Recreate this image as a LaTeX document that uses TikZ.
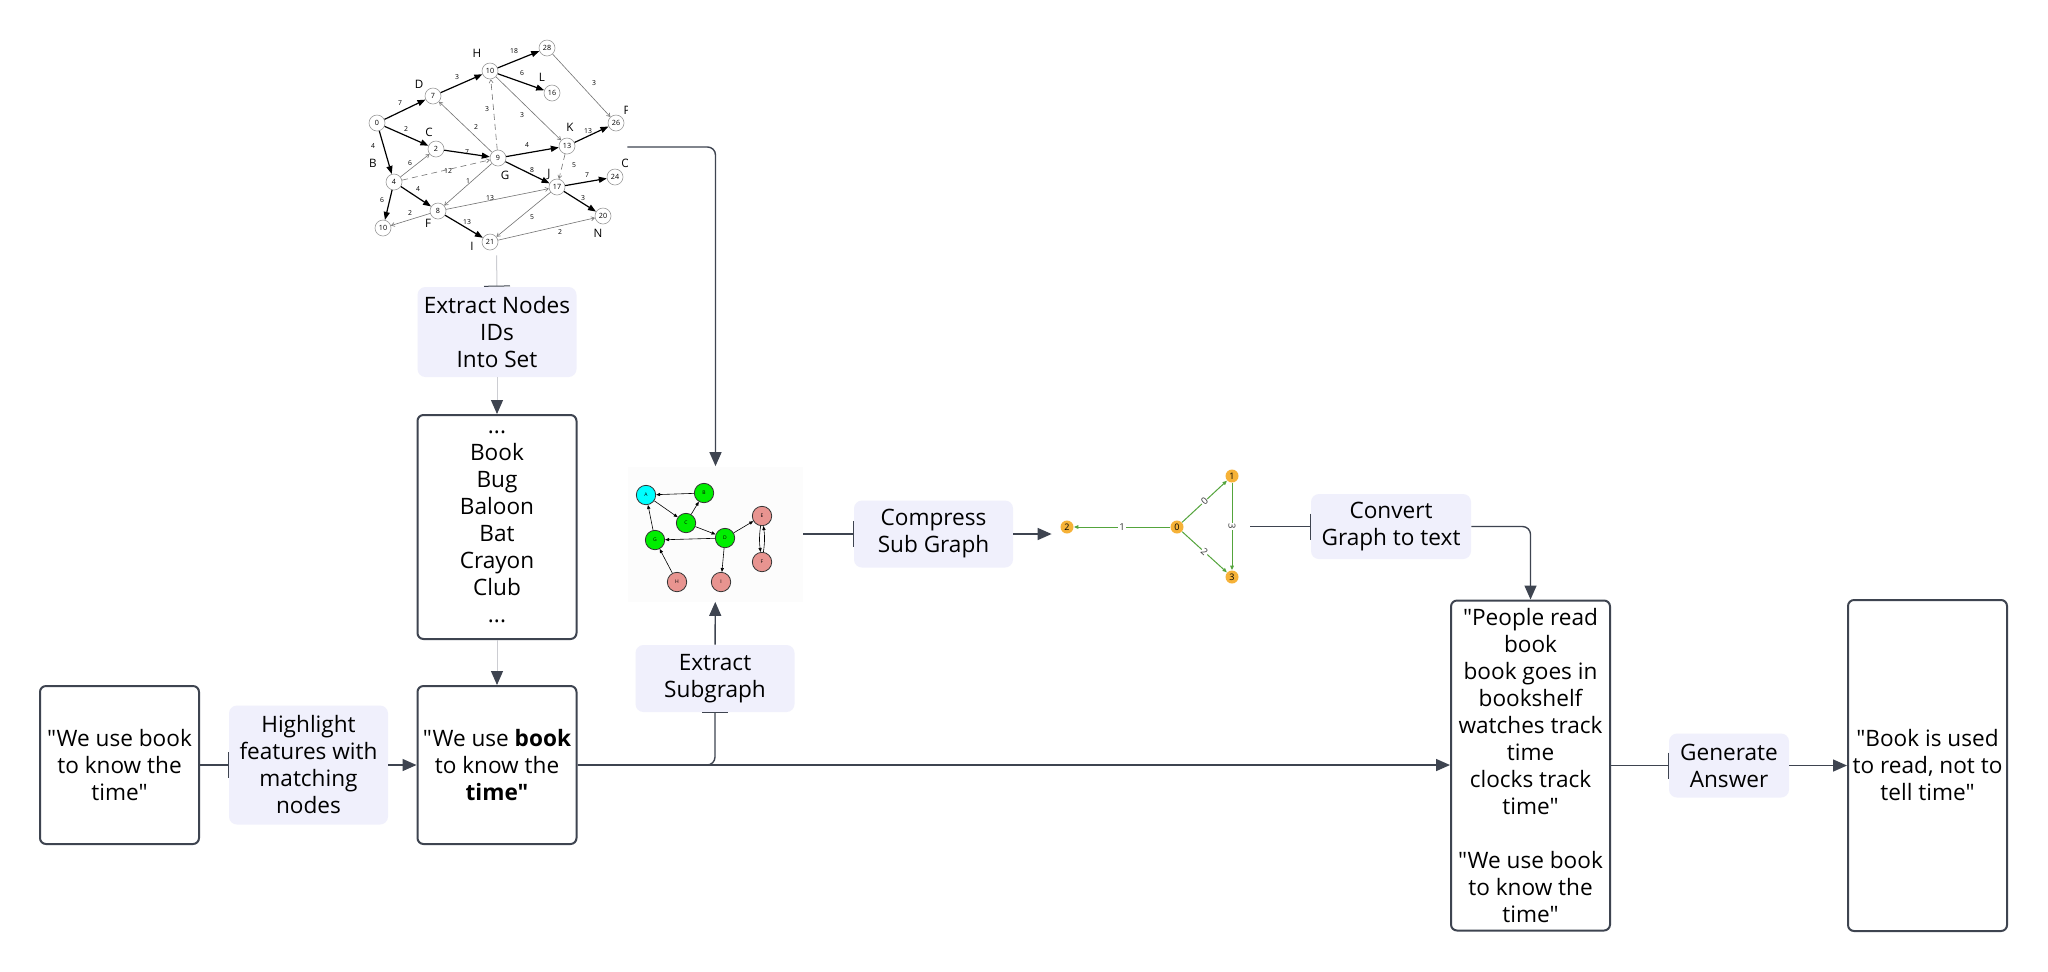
\documentclass[tikz,border=0pt]{standalone}
\usepackage{fontspec}
\setmainfont{Open Sans}[Ligatures=TeXOff]
\usetikzlibrary{arrows.meta,positioning}

\definecolor{edgegray}{RGB}{62,68,80}
\definecolor{paleline}{RGB}{204,205,210}
\definecolor{lavender}{RGB}{240,240,252}
\definecolor{subcyan}{RGB}{0,255,255}
\definecolor{subgreen}{RGB}{0,238,0}
\definecolor{subpink}{RGB}{232,148,144}
\definecolor{triorange}{RGB}{246,178,56}
\definecolor{trigreen}{RGB}{84,164,60}

\tikzset{
  textbox/.style={draw=edgegray, line width=1pt, rounded corners=3pt, fill=white,
    align=center, minimum width=79.5pt, inner sep=0pt,
    font=\fontsize{11.3}{13.5}\selectfont},
  steplabel/.style={fill=lavender, rounded corners=4pt, align=center,
    minimum width=79.5pt, inner sep=0pt, font=\fontsize{11.3}{13.5}\selectfont},
  flow/.style={draw=edgegray, line width=0.7pt, rounded corners=4pt,
    -{Triangle[length=7pt,width=6pt]}},
  paleflow/.style={draw=paleline, line width=0.5pt,
    -{Triangle[length=7pt,width=6pt,color=edgegray]}},
  into/.style={draw=edgegray, line width=0.7pt, rounded corners=4pt,
    -{Bar[width=13pt,line width=0.5pt]}},
  paleinto/.style={draw=paleline, line width=0.5pt,
    -{Bar[width=13pt,line width=0.5pt,color=edgegray]}},
  gnode/.style={circle, draw=gray!80, line width=0.3pt, fill=white, minimum size=8pt,
    inner sep=0pt, font=\fontsize{3.6}{4}\selectfont},
  crit/.style={line width=0.6pt, -{Triangle[length=4pt,width=3pt]}},
  slack/.style={black!55, line width=0.3pt, -{Straight Barb[length=1.6pt,width=2pt]}},
  weight/.style={inner sep=0pt, font=\fontsize{3.4}{4}\selectfont},
  letter/.style={inner sep=0pt, font=\fontsize{5.8}{6}\selectfont},
  snode/.style={circle, draw=black!80, line width=0.4pt, minimum size=9.7pt,
    inner sep=0pt, font=\fontsize{2.5}{3}\selectfont},
  sedge/.style={line width=0.3pt, -{Triangle[length=2pt,width=1.6pt]}},
  tnode/.style={circle, fill=triorange, minimum size=6.5pt, inner sep=0pt,
    font=\fontsize{4.5}{5}\selectfont},
  tedge/.style={trigreen, line width=0.5pt, -{Triangle[length=2.2pt,width=1.8pt]}},
  tlabel/.style={fill=white, text=black!80, inner sep=0.4pt, sloped,
    font=\fontsize{4.8}{5}\selectfont}
}

\begin{document}
\begin{tikzpicture}[x=0.5pt, y=-0.5pt]
\useasboundingbox (0,0) rectangle (2048,971);
\fill[white] (0,0) rectangle (2048,971);

% weighted graph picture
\node[minimum width=130.5pt, minimum height=108pt, inner sep=0pt] (bigimg) at (496.5,147) {};
\begin{scope}
\clip (360,30) rectangle (627,262);
\node[gnode] (g0) at (377,123) {0};
\node[gnode] (g7) at (433,96) {7};
\node[gnode] (g10) at (490,71) {10};
\node[gnode] (g28) at (547,48) {28};
\node[gnode] (g16) at (552,93) {16};
\node[gnode] (g2) at (436,149) {2};
\node[gnode] (g9) at (498,158) {9};
\node[gnode] (g13) at (567,146) {13};
\node[gnode] (g26) at (616,123) {26};
\node[gnode] (g4) at (394,182) {4};
\node[gnode] (g17) at (557,187) {17};
\node[gnode] (g24) at (615,177) {24};
\node[gnode] (g8) at (438,211) {8};
\node[gnode] (gx10) at (383,228) {10};
\node[gnode] (g21) at (490,242) {21};
\node[gnode] (g20) at (603,216) {20};
\draw[crit] (g0) -- (g7); \draw[crit] (g7) -- (g10);
\draw[crit] (g10) -- (g28); \draw[crit] (g10) -- (g16);
\draw[crit] (g0) -- (g2); \draw[crit] (g0) -- (g4);
\draw[crit] (g2) -- (g9); \draw[crit] (g9) -- (g13);
\draw[crit] (g13) -- (g26); \draw[crit] (g9) -- (g17);
\draw[crit] (g17) -- (g24); \draw[crit] (g17) -- (g20);
\draw[crit] (g4) -- (g8); \draw[crit] (g4) -- (gx10);
\draw[crit] (g8) -- (g21);
\draw[slack] (g28) -- (g26); \draw[slack] (g10) -- (g13);
\draw[slack] (g9) -- (g7); \draw[slack] (g4) -- (g2);
\draw[slack] (g9) -- (g8); \draw[slack] (g8) -- (g17);
\draw[slack] (g8) -- (gx10); \draw[slack] (g17) -- (g21);
\draw[slack] (g21) -- (g20);
\draw[slack, densely dashed] (g9) -- (g10);
\draw[slack, densely dashed] (g4) -- (g9);
\draw[slack, densely dashed] (g13) -- (g17);
% weights
\node[weight] (w1) at (400,103) {7};   \node[weight] (w2) at (457,77) {3};
\node[weight] (w3) at (514,51) {18};   \node[weight] (w4) at (522,73) {6};
\node[weight] (w5) at (406,129) {2};   \node[weight] (w6) at (373,146) {4};
\node[weight] (w7) at (467,152) {7};   \node[weight] (w8) at (487,109) {3};
\node[weight] (w9) at (476,127) {2};   \node[weight] (w10) at (522,115) {3};
\node[weight] (w11) at (594,83) {3};   \node[weight] (w12) at (527,145) {4};
\node[weight] (w13) at (588,131) {13}; \node[weight] (w14) at (410,163) {6};
\node[weight] (w15) at (448,171) {12}; \node[weight] (w16) at (532,170) {8};
\node[weight] (w17) at (574,165) {5};  \node[weight] (w18) at (587,175) {7};
\node[weight] (w19) at (468,181) {1};  \node[weight] (w20) at (418,189) {4};
\node[weight] (w21) at (490,198) {13}; \node[weight] (w22) at (583,198) {3};
\node[weight] (w23) at (382,200) {6};  \node[weight] (w24) at (410,213) {2};
\node[weight] (w25) at (532,217) {5};  \node[weight] (w26) at (467,222) {13};
\node[weight] (w27) at (560,232) {2};
% letters
\node[letter] (lH) at (477,53) {H}; \node[letter] (lD) at (419,84) {D};
\node[letter] (lC) at (429,132) {C}; \node[letter] (lB) at (373,163) {B};
\node[letter] (lL) at (542,77) {L}; \node[letter] (lK) at (570,127) {K};
\node[letter] (lP) at (627,110) {P}; \node[letter] (lG) at (505,175) {G};
\node[letter] (lJ) at (549,174) {J}; \node[letter] (lO) at (626,163) {O};
\node[letter] (lF) at (428,223) {F}; \node[letter] (lI) at (472,246) {I};
\node[letter] (lN) at (598,233) {N};
\end{scope}

% subgraph picture
\node[fill=gray!2, minimum width=87.5pt, minimum height=67.5pt, inner sep=0pt] (subimg) at (715.5,534) {};
\node[snode, fill=subcyan] (sA) at (646,495) {A};
\node[snode, fill=subgreen] (sB) at (704,493) {B};
\node[snode, fill=subgreen] (sC) at (686,523) {C};
\node[snode, fill=subgreen] (sG) at (655,540) {G};
\node[snode, fill=subgreen] (sD) at (725,538) {D};
\node[snode, fill=subpink] (sE) at (762,516) {E};
\node[snode, fill=subpink] (sF) at (762,562) {F};
\node[snode, fill=subpink] (sH) at (677,582) {H};
\node[snode, fill=subpink] (sI) at (721,582) {I};
\draw[sedge] (sB) -- (sA); \draw[sedge] (sA) -- (sC);
\draw[sedge] (sC) -- (sB); \draw[sedge] (sC) -- (sD);
\draw[sedge] (sD) -- (sG); \draw[sedge] (sG) -- (sA);
\draw[sedge] (sH) -- (sG); \draw[sedge] (sD) -- (sI);
\draw[sedge] (sD) -- (sE);
\draw[sedge] (sE) to[bend right=8] (sF);
\draw[sedge] (sF) to[bend right=8] (sE);

% compressed graph picture
\node[minimum width=99pt, minimum height=57pt, inner sep=0pt] (trimg) at (1151,534) {};
\node[tnode] (t2) at (1067,527) {2};
\node[tnode] (t0) at (1177,527) {0};
\node[tnode] (t1) at (1232,476) {1};
\node[tnode] (t3) at (1232,577) {3};
\draw[tedge] (t0) -- node[tlabel] {1} (t2);
\draw[tedge] (t0) -- node[tlabel] {0} (t1);
\draw[tedge] (t0) -- node[tlabel] {2} (t3);
\draw[tedge] (t1) -- node[tlabel] {3} (t3);

% boxes and steps
\node[textbox, minimum height=79pt] (question) at (119.5,765) {"We use book\\to know the\\time"};
\node[steplabel, minimum height=59.5pt] (highlight) at (308.5,765) {Highlight\\features with\\matching\\nodes};
\node[textbox, minimum height=79pt] (marked) at (497,765) {"We use \textbf{book}\\to know the\\\textbf{time"}};
\node[textbox, minimum height=112pt] (idset) at (497,527) {...\\Book\\Bug\\Baloon\\Bat\\Crayon\\Club\\...};
\node[steplabel, minimum height=45pt] (extractids) at (497,332) {Extract Nodes\\IDs\\Into Set};
\node[steplabel, minimum height=33.5pt] (extractsub) at (715,678.5) {Extract\\Subgraph};
\node[steplabel, minimum height=33.5pt] (compress) at (933.5,534) {Compress\\Sub Graph};
\node[steplabel, minimum width=80pt, minimum height=32.5pt] (convert) at (1391,526.5) {Convert\\Graph to text};
\node[textbox, minimum height=165pt] (context) at (1530.5,765.5) {"People read\\book\\book goes in\\bookshelf\\watches track\\time\\clocks track\\time"\\[13.5pt]"We use book\\to know the\\time"};
\node[steplabel, minimum width=60pt, minimum height=32pt] (generate) at (1729,765.5) {Generate\\Answer};
\node[textbox, minimum height=165.5pt] (answer) at (1927.5,765.5) {"Book is used\\to read, not to\\tell time"};

% connectors
\draw[paleinto] (bigimg.south) -- (extractids.north);
\draw[paleflow] (extractids) -- (idset);
\draw[paleflow] (idset) -- (marked);
\draw[into] (question) -- (highlight);
\draw[flow] (highlight) -- (marked);
\draw[into] (marked.east) -| (extractsub.south);
\draw[flow] (extractsub) -- (subimg);
\draw[flow] (marked.east) -- (marked.east -| context.west);
\draw[flow] (bigimg.east) -| (subimg.north);
\draw[into] (subimg) -- (compress);
\draw[flow] (compress) -- (trimg);
\draw[into] (trimg.east |- convert) -- (convert);
\draw[flow] (convert.east) -| (context.north);
\draw[into] (context) -- (generate);
\draw[flow] (generate) -- (answer);
\end{tikzpicture}
\end{document}
